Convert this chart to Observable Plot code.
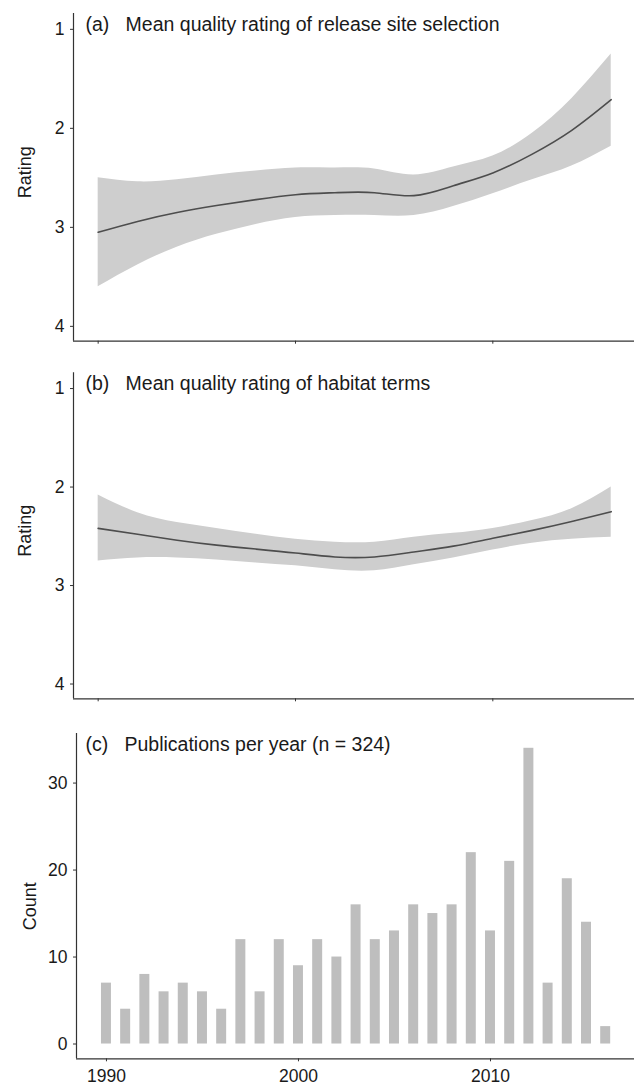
<!DOCTYPE html>
<html>
<head>
<meta charset="utf-8">
<script src="https://cdn.jsdelivr.net/npm/d3@7"></script>
<script src="https://cdn.jsdelivr.net/npm/@observablehq/plot@0.6"></script>
<style>
  html, body { margin: 0; padding: 0; background: #fff; }
  #chart svg { display: block; }
</style>
</head>
<body>
<div id="chart"></div>
<script>
// ---------- Data ----------
const smoothYears = [1990, 1992, 1994, 1996, 1998, 2000, 2002, 2004, 2006, 2008, 2010, 2012, 2014, 2016];

// (a) release site selection
const fitA   = [3.05, 2.94, 2.85, 2.78, 2.72, 2.67, 2.65, 2.65, 2.68, 2.58, 2.45, 2.26, 2.02, 1.71];
const upperA = [2.50, 2.54, 2.52, 2.47, 2.43, 2.40, 2.40, 2.41, 2.47, 2.39, 2.28, 2.05, 1.70, 1.25];
const lowerA = [3.60, 3.38, 3.20, 3.07, 2.97, 2.90, 2.88, 2.88, 2.88, 2.79, 2.66, 2.52, 2.38, 2.18];

// (b) habitat terms
const fitB   = [2.42, 2.48, 2.54, 2.59, 2.63, 2.67, 2.71, 2.71, 2.66, 2.60, 2.52, 2.44, 2.35, 2.25];
const upperB = [2.08, 2.26, 2.36, 2.42, 2.48, 2.53, 2.56, 2.56, 2.51, 2.47, 2.42, 2.34, 2.22, 2.00];
const lowerB = [2.75, 2.72, 2.72, 2.74, 2.77, 2.80, 2.84, 2.85, 2.79, 2.72, 2.64, 2.57, 2.53, 2.51];

// (c) publications per year
const pubYears  = [1990, 1991, 1992, 1993, 1994, 1995, 1996, 1997, 1998, 1999, 2000, 2001, 2002, 2003,
                   2004, 2005, 2006, 2007, 2008, 2009, 2010, 2011, 2012, 2013, 2014, 2015, 2016];
const pubCounts = [7, 4, 8, 6, 7, 6, 4, 12, 6, 12, 9, 12, 10, 16,
                   12, 13, 16, 15, 16, 22, 13, 21, 34, 7, 19, 14, 2];

const ratingTicks = [1, 2, 3, 4];
const countTicks = [0, 10, 20, 30];
const yearTicks = [1990, 2000, 2010];

const titleA = "(a)   Mean quality rating of release site selection";
const titleB = "(b)   Mean quality rating of habitat terms";
const titleC = "(c)   Publications per year (n = 324)";

// ---------- Helpers ----------
const FONT = "'Liberation Sans', Arial, Helvetica, sans-serif";
const AXIS = "#333333";
const BAND = "#cecece";
const LINE = "#4d4d4d";
const BAR = "#bebebe";

function smoothPanel(fit, lo, hi, title, opts) {
  const data = smoothYears.map((year, i) => ({year, fit: fit[i], lo: lo[i], hi: hi[i]}));
  const xd = [1988.75, 2017.18];
  const yd = [0.84, 4.15];
  return Plot.plot({
    width: 634,
    height: opts.height,
    marginLeft: 73,
    marginRight: 0,
    marginTop: opts.marginTop,
    marginBottom: opts.marginBottom,
    style: {fontFamily: FONT, fontSize: "17.5px", color: "#1a1a1a", background: "#fff"},
    x: {domain: xd},
    y: {domain: yd, reverse: true},
    marks: [
      Plot.areaY(data, {x: "year", y1: "lo", y2: "hi", fill: BAND, curve: "natural"}),
      Plot.lineY(data, {x: "year", y: "fit", stroke: LINE, strokeWidth: 1.6, curve: "natural"}),
      Plot.axisY({ticks: ratingTicks, tickSize: 3, tickPadding: 6, label: null, tickFormat: d => String(d), stroke: AXIS}),
      Plot.axisX({ticks: yearTicks, tickSize: 3, label: null, tickFormat: () => "", stroke: AXIS}),
      Plot.ruleX([xd[0]], {stroke: AXIS, strokeWidth: 1.2}),
      Plot.ruleY([yd[1]], {stroke: AXIS, strokeWidth: 1.2}),
      Plot.text(["Rating"], {text: d => d, frameAnchor: "left", dx: -43, dy: -5, rotate: -90, lineAnchor: "bottom",
                             textAnchor: "middle", fontSize: 18, fill: "#1a1a1a"}),
      Plot.text([title], {text: d => d, frameAnchor: "top-left", dx: 12, dy: 17.5, lineAnchor: "bottom",
                          textAnchor: "start", fontSize: 19.5, fill: "#1a1a1a"})
    ]
  });
}

function barPanel() {
  const data = pubYears.map((year, i) => ({year, count: pubCounts[i]}));
  const xd = [1988.44, 2017.5];
  const yd = [-1.7, 35.7];
  return Plot.plot({
    width: 634,
    height: 371,
    marginLeft: 76,
    marginRight: 0,
    marginTop: 19,
    marginBottom: 26.7,
    style: {fontFamily: FONT, fontSize: "17.5px", color: "#1a1a1a", background: "#fff"},
    x: {domain: xd},
    y: {domain: yd},
    marks: [
      Plot.rectY(data, {x1: d => d.year - 0.26, x2: d => d.year + 0.26, y1: 0, y2: "count", fill: BAR}),
      Plot.axisY({ticks: countTicks, tickSize: 3, tickPadding: 6, label: null, tickFormat: d => String(d), stroke: AXIS}),
      Plot.axisX({ticks: yearTicks, tickSize: 3, tickPadding: 8, label: null, tickFormat: d => String(d), stroke: AXIS}),
      Plot.ruleX([xd[0]], {stroke: AXIS, strokeWidth: 1.2}),
      Plot.ruleY([yd[0]], {stroke: AXIS, strokeWidth: 1.2}),
      Plot.text(["Count"], {text: d => d, frameAnchor: "left", dx: -41, dy: 10, rotate: -90, lineAnchor: "bottom",
                            textAnchor: "middle", fontSize: 18, fill: "#1a1a1a"}),
      Plot.text([titleC], {text: d => d, frameAnchor: "top-left", dx: 9, dy: 17, lineAnchor: "bottom",
                           textAnchor: "start", fontSize: 19.5, fill: "#1a1a1a"})
    ]
  });
}

const chart = document.getElementById("chart");
chart.append(smoothPanel(fitA, lowerA, upperA, titleA, {height: 356, marginTop: 13, marginBottom: 15.3}));
chart.append(smoothPanel(fitB, lowerB, upperB, titleB, {height: 358, marginTop: 16.3, marginBottom: 15.7}));
chart.append(barPanel());
</script>
</body>
</html>
